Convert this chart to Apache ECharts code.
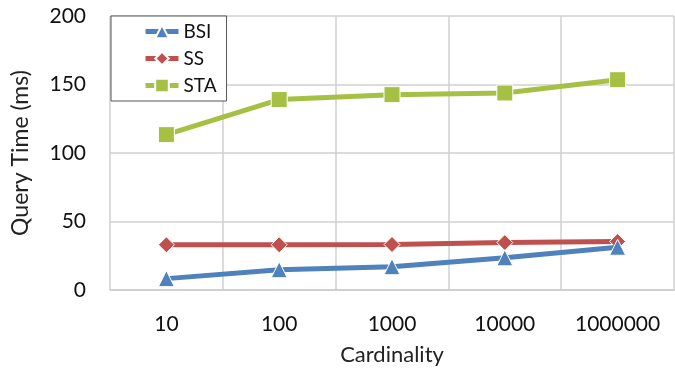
<!DOCTYPE html>
<html><head><meta charset="utf-8">
<script src="https://cdn.jsdelivr.net/npm/echarts@6/dist/echarts.min.js"></script>
<style>html,body{margin:0;padding:0;background:#fff}#c{width:675px;height:371px}</style>
</head><body><div id="c"></div>
<script>
const categories = ['10','100','1000','10000','1000000'];
const bsi = [8.3, 14.8, 17.0, 23.5, 31.2];
const ss = [33.0, 33.0, 33.2, 34.6, 35.4];
const sta = [113.4, 139.0, 142.6, 143.8, 153.5];
const yTicks = [0, 50, 100, 150, 200];

const font = 'Lato, "Open Sans", sans-serif';
const chart = echarts.init(document.getElementById('c'));
chart.setOption({
  animation: false,
  grid: {left: 110, right: 1, top: 16, bottom: 78},
  legend: {
    left: 111, top: 16, orient: 'vertical',
    width: 131, itemWidth: 33, itemHeight: 17, itemGap: 8,
    padding: [6, 10, 6, 32],
    borderColor: '#555', borderWidth: 1, backgroundColor: '#fff',
    lineStyle: {width: 5},
    textStyle: {fontFamily: font, fontSize: 19, color: '#111'},
    data: ['BSI', 'SS', 'STA']
  },
  xAxis: {
    type: 'category', data: categories, boundaryGap: true,
    name: 'Cardinality', nameLocation: 'middle', nameGap: 54,
    nameTextStyle: {fontFamily: font, fontSize: 22, color: '#222'},
    axisLine: {show: true, lineStyle: {color: '#d0d0d0', width: 2}},
    axisTick: {show: false},
    axisLabel: {fontFamily: font, fontSize: 21, color: '#111', margin: 24},
    splitLine: {show: true, lineStyle: {color: '#d0d0d0', width: 1.5}}
  },
  yAxis: {
    type: 'value', min: yTicks[0], max: yTicks[yTicks.length-1], interval: 50,
    name: 'Query Time (ms)', nameLocation: 'middle', nameGap: 78, nameRotate: 90,
    nameTextStyle: {fontFamily: font, fontSize: 23, color: '#222'},
    axisLine: {show: false}, axisTick: {show: false},
    axisLabel: {fontFamily: font, fontSize: 21, color: '#111', margin: 24},
    splitLine: {lineStyle: {color: '#d0d0d0', width: 1.5}}
  },
  series: [
    {name: 'BSI', type: 'line', data: bsi, symbol: 'triangle', symbolSize: 16,
     lineStyle: {width: 5, color: '#4F81BD'},
     itemStyle: {color: '#4F81BD', borderColor: '#fff', borderWidth: 1}, z: 4},
    {name: 'SS', type: 'line', data: ss, symbol: 'diamond', symbolSize: 16,
     lineStyle: {width: 5, color: '#C0504D'},
     itemStyle: {color: '#C0504D', borderColor: '#fff', borderWidth: 1}, z: 3},
    {name: 'STA', type: 'line', data: sta, symbol: 'rect', symbolSize: 16,
     lineStyle: {width: 5, color: '#A6C044'},
     itemStyle: {color: '#A6C044', borderColor: '#fff', borderWidth: 1}, z: 3}
  ]
});
</script></body></html>
